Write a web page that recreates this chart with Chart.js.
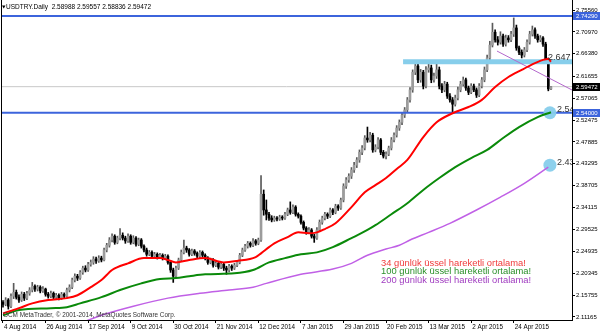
<!DOCTYPE html>
<html><head><meta charset="utf-8">
<script src="https://cdn.jsdelivr.net/npm/chart.js@4/dist/chart.umd.min.js"></script>
<style>html,body{margin:0;padding:0;background:#fff;overflow:hidden}canvas{display:block}</style>
</head><body>
<canvas id="c" width="600" height="333"></canvas>
<script>
const titleText = 'USDTRY.Daily  2.58988 2.59557 2.58836 2.59472';
const copyrightText = 'GCM MetaTrader, \u00A9 2001-2014, MetaQuotes Software Corp.';
const legendTexts = ['34 g\u00FCnl\u00FCk \u00FCssel hareketli ortalama!', '100 g\u00FCnl\u00FCk \u00FCssel hareketli ortalama!', '200 g\u00FCnl\u00FCk \u00FCssel hareketli ortalama!'];

const opens = [2.142,2.138,2.147,2.134,2.155,2.163,2.153,2.147,2.159,2.151,
 2.161,2.168,2.176,2.170,2.174,2.166,2.170,2.159,2.155,2.161,
 2.153,2.157,2.151,2.159,2.155,2.168,2.174,2.189,2.197,2.193,
 2.205,2.214,2.210,2.222,2.226,2.233,2.229,2.235,2.231,2.252,
 2.262,2.273,2.281,2.268,2.277,2.283,2.277,2.271,2.281,2.268,
 2.277,2.264,2.273,2.260,2.252,2.243,2.247,2.239,2.243,2.237,
 2.241,2.235,2.239,2.226,2.210,2.197,2.214,2.231,2.247,2.256,
 2.252,2.243,2.250,2.245,2.239,2.247,2.241,2.235,2.226,2.231,
 2.220,2.224,2.216,2.222,2.214,2.210,2.218,2.214,2.220,2.226,
 2.241,2.252,2.260,2.266,2.262,2.271,2.266,2.273,2.369,2.336,
 2.327,2.319,2.315,2.319,2.317,2.321,2.319,2.327,2.336,2.331,
 2.342,2.327,2.323,2.310,2.298,2.289,2.294,2.281,2.277,2.294,
 2.310,2.319,2.327,2.323,2.336,2.331,2.344,2.340,2.357,2.386,
 2.399,2.407,2.420,2.430,2.441,2.457,2.466,2.487,2.483,2.493,
 2.462,2.468,2.483,2.457,2.449,2.453,2.466,2.483,2.493,2.508,
 2.520,2.535,2.546,2.567,2.588,2.625,2.638,2.609,2.625,2.596,
 2.630,2.634,2.609,2.617,2.630,2.596,2.588,2.600,2.575,2.567,
 2.558,2.571,2.588,2.600,2.609,2.592,2.583,2.596,2.588,2.577,
 2.596,2.609,2.630,2.655,2.682,2.709,2.693,2.688,2.701,2.684,
 2.697,2.693,2.705,2.718,2.676,2.667,2.661,2.672,2.688,2.705,
 2.714,2.701,2.693,2.697,2.684,2.651,2.58988];
const highs = [2.146,2.152,2.150,2.160,2.182,2.168,2.158,2.164,2.163,2.165,
 2.173,2.184,2.179,2.178,2.177,2.175,2.172,2.163,2.166,2.164,
 2.161,2.160,2.163,2.162,2.172,2.179,2.193,2.202,2.201,2.209,
 2.218,2.219,2.226,2.231,2.238,2.237,2.240,2.239,2.256,2.266,
 2.278,2.286,2.284,2.281,2.297,2.288,2.281,2.286,2.284,2.282,
 2.280,2.277,2.276,2.263,2.256,2.251,2.250,2.247,2.246,2.245,
 2.244,2.243,2.242,2.229,2.214,2.218,2.235,2.252,2.273,2.260,
 2.255,2.254,2.253,2.248,2.251,2.250,2.244,2.238,2.235,2.234,
 2.228,2.227,2.226,2.225,2.218,2.222,2.221,2.224,2.230,2.245,
 2.256,2.264,2.270,2.269,2.276,2.274,2.277,2.408,2.378,2.357,
 2.331,2.324,2.323,2.322,2.325,2.324,2.331,2.340,2.353,2.347,
 2.345,2.330,2.326,2.313,2.301,2.299,2.297,2.285,2.299,2.315,
 2.323,2.331,2.330,2.340,2.339,2.348,2.347,2.361,2.391,2.404,
 2.412,2.425,2.436,2.446,2.462,2.471,2.492,2.510,2.499,2.497,
 2.473,2.488,2.486,2.461,2.458,2.470,2.488,2.498,2.513,2.525,
 2.540,2.551,2.572,2.593,2.630,2.646,2.643,2.631,2.629,2.637,
 2.645,2.640,2.623,2.644,2.636,2.601,2.606,2.604,2.580,2.572,
 2.577,2.594,2.606,2.615,2.613,2.596,2.601,2.600,2.592,2.601,
 2.614,2.636,2.661,2.690,2.728,2.714,2.700,2.710,2.705,2.703,
 2.702,2.711,2.739,2.724,2.680,2.672,2.677,2.693,2.711,2.722,
 2.718,2.705,2.702,2.700,2.688,2.655,2.59557];
const lows = [2.132,2.135,2.128,2.131,2.150,2.149,2.142,2.144,2.146,2.148,
 2.157,2.164,2.165,2.166,2.162,2.163,2.155,2.151,2.152,2.149,
 2.150,2.147,2.148,2.151,2.153,2.164,2.171,2.185,2.188,2.190,
 2.201,2.206,2.207,2.218,2.222,2.224,2.226,2.227,2.229,2.248,
 2.258,2.269,2.264,2.265,2.273,2.273,2.266,2.268,2.264,2.265,
 2.260,2.261,2.256,2.248,2.239,2.240,2.235,2.236,2.233,2.234,
 2.231,2.232,2.222,2.205,2.184,2.193,2.211,2.228,2.244,2.247,
 2.239,2.240,2.241,2.235,2.236,2.237,2.231,2.222,2.223,2.216,
 2.217,2.212,2.213,2.209,2.201,2.206,2.209,2.211,2.217,2.223,
 2.238,2.249,2.256,2.258,2.259,2.262,2.263,2.270,2.325,2.315,
 2.314,2.311,2.312,2.313,2.314,2.315,2.316,2.324,2.327,2.328,
 2.323,2.319,2.306,2.294,2.285,2.286,2.277,2.268,2.274,2.291,
 2.306,2.315,2.318,2.320,2.326,2.328,2.335,2.337,2.353,2.381,
 2.394,2.402,2.415,2.425,2.436,2.452,2.462,2.478,2.479,2.457,
 2.458,2.464,2.452,2.445,2.443,2.450,2.462,2.479,2.489,2.503,
 2.515,2.530,2.541,2.562,2.583,2.620,2.603,2.604,2.590,2.592,
 2.625,2.603,2.604,2.612,2.590,2.582,2.584,2.570,2.562,2.541,
 2.554,2.567,2.584,2.596,2.587,2.578,2.580,2.584,2.572,2.574,
 2.592,2.605,2.626,2.651,2.678,2.688,2.682,2.684,2.679,2.680,
 2.688,2.689,2.700,2.671,2.662,2.655,2.657,2.668,2.684,2.701,
 2.696,2.688,2.689,2.679,2.646,2.586,2.58836];
const closes = [2.138,2.147,2.134,2.155,2.163,2.153,2.147,2.159,2.151,2.161,
 2.168,2.176,2.170,2.174,2.166,2.170,2.159,2.155,2.161,2.153,
 2.157,2.151,2.159,2.155,2.168,2.174,2.189,2.197,2.193,2.205,
 2.214,2.210,2.222,2.226,2.233,2.229,2.235,2.231,2.252,2.262,
 2.273,2.281,2.268,2.277,2.283,2.277,2.271,2.281,2.268,2.277,
 2.264,2.273,2.260,2.252,2.243,2.247,2.239,2.243,2.237,2.241,
 2.235,2.239,2.226,2.210,2.197,2.214,2.231,2.247,2.256,2.252,
 2.243,2.250,2.245,2.239,2.247,2.241,2.235,2.226,2.231,2.220,
 2.224,2.216,2.222,2.214,2.210,2.218,2.214,2.220,2.226,2.241,
 2.252,2.260,2.266,2.262,2.271,2.266,2.273,2.369,2.336,2.327,
 2.319,2.315,2.319,2.317,2.321,2.319,2.327,2.336,2.331,2.342,
 2.327,2.323,2.310,2.298,2.289,2.294,2.281,2.277,2.294,2.310,
 2.319,2.327,2.323,2.336,2.331,2.344,2.340,2.357,2.386,2.399,
 2.407,2.420,2.430,2.441,2.457,2.466,2.487,2.483,2.493,2.462,
 2.468,2.483,2.457,2.449,2.453,2.466,2.483,2.493,2.508,2.520,
 2.535,2.546,2.567,2.588,2.625,2.638,2.609,2.625,2.596,2.630,
 2.634,2.609,2.617,2.630,2.596,2.588,2.600,2.575,2.567,2.558,
 2.571,2.588,2.600,2.609,2.592,2.583,2.596,2.588,2.577,2.596,
 2.609,2.630,2.655,2.682,2.709,2.693,2.688,2.701,2.684,2.697,
 2.693,2.705,2.718,2.676,2.667,2.661,2.672,2.688,2.705,2.714,
 2.701,2.693,2.697,2.684,2.651,2.590,2.59472];

const ema34Bars = [0,6,11,17,24,28,33,37,41,47,53,59,62,65,70,76,83,88,95,97,100,102,107,111,115,118,121,125,131,136,140,144,148,152,158,163,169,175,180,185,190,195,200,203,205,206];
const ema34Vals = [2.119,2.130,2.140,2.147,2.151,2.157,2.174,2.189,2.210,2.224,2.235,2.235,2.231,2.226,2.231,2.235,2.226,2.229,2.237,2.245,2.258,2.266,2.279,2.289,2.287,2.289,2.296,2.308,2.342,2.373,2.388,2.403,2.422,2.441,2.489,2.520,2.539,2.552,2.567,2.594,2.615,2.630,2.644,2.651,2.653,2.647];
const ema100Bars = [0,6,18,24,29,37,44,52,59,65,70,76,87,94,100,106,112,118,124,131,137,140,146,152,158,164,170,176,182,188,194,201,206];
const ema100Vals = [2.115,2.126,2.130,2.132,2.140,2.153,2.168,2.182,2.191,2.193,2.197,2.201,2.203,2.210,2.226,2.235,2.243,2.247,2.258,2.277,2.294,2.304,2.327,2.350,2.378,2.403,2.426,2.445,2.462,2.487,2.510,2.531,2.541];
const ema200Bars = [28,37,49,62,74,85,94,99,112,124,131,137,144,149,153,160,168,178,187,196,205];
const ema200Vals = [2.096,2.115,2.134,2.151,2.161,2.168,2.174,2.182,2.201,2.212,2.224,2.241,2.254,2.262,2.273,2.289,2.308,2.336,2.363,2.392,2.426];

const xTickBars = [0,16,32,48,64,80,96,112,128,144,160,176,192];
const xTickLabels = ['4 Aug 2014','26 Aug 2014','17 Sep 2014','9 Oct 2014','30 Oct 2014','21 Nov 2014','12 Dec 2014','7 Jan 2015','29 Jan 2015','20 Feb 2015','13 Mar 2015','2 Apr 2015','24 Apr 2015'];
const yTickValues = [2.75560,2.70970,2.66380,2.61655,2.57065,2.52475,2.47885,2.43295,2.38705,2.34115,2.29525,2.24935,2.20345,2.15755,2.11165];
const yTickLabels = ['2.75560','2.70970','2.66380','2.61655','2.57065','2.52475','2.47885','2.43295','2.38705','2.34115','2.29525','2.24935','2.20345','2.15755','2.11165'];

const levelTop = 2.7429;
const levelSupport = 2.54;
const levelResist = 2.647;
const lastPrice = 2.59472;
const resistStartBar = 150.4;
const trendBars = [185.7, 214];
const trendVals = [2.6695, 2.5875];
const markerBars = [205.6, 205.6];
const markerVals = [2.540, 2.430];
const markerLabels = ['2.54', '2.43'];

const X_MIN = -0.75, X_MAX = 213.9, Y_MIN = 2.1051, Y_MAX = 2.7766;
const FONT = '"Liberation Sans", Arial, sans-serif';
const BULL = '#9c9c9c', BEAR = '#000000';

const idx = closes.map((_, i) => i);
const candleCol = idx.map(i => closes[i] >= opens[i] ? BULL : BEAR);
const wickCol = idx.map(i => closes[i] >= opens[i] ? '#5a5a5a' : BEAR);
const pts = (bars, vals) => bars.map((b, i) => ({x: b, y: vals[i]}));
const flat = (a, b, v) => [{x: a, y: v}, {x: b, y: v}];

const lineDs = (data, color, width, order, extra) => Object.assign({
  type: 'line', data, borderColor: color, borderWidth: width, pointRadius: 0,
  fill: false, order, clip: 0, cubicInterpolationMode: 'monotone'
}, extra || {});

const overlay = {
  id: 'overlay',
  afterDatasetsDraw(chart) {
    const {ctx, chartArea: a, scales: {x, y}} = chart;
    ctx.save();
    ctx.beginPath(); ctx.rect(a.left, a.top, a.right - a.left, a.bottom - a.top); ctx.clip();
    ctx.fillStyle = '#333';
    ctx.textBaseline = 'middle'; ctx.textAlign = 'left';
    ctx.font = '9px ' + FONT;
    ctx.fillText(levelResist.toFixed(3), x.getPixelForValue(204.9), y.getPixelForValue(levelResist) - 4);
    markerLabels.forEach((t, i) => ctx.fillText(t, x.getPixelForValue(markerBars[i]) + 7, y.getPixelForValue(markerVals[i]) - 3));
    const cols = ['#f03a3a', '#2a8f2a', '#a03cc0'];
    ctx.font = '9.4px ' + FONT;
    legendTexts.forEach((t, i) => { ctx.fillStyle = cols[i]; ctx.fillText(t, a.left + 380, 263.5 + i * 8.3); });
    ctx.fillStyle = '#333'; ctx.font = '6.4px ' + FONT;
    ctx.fillText(copyrightText, a.left + 2, 315.5);
    ctx.fillStyle = '#000'; ctx.font = '6.5px ' + FONT;
    ctx.fillText(titleText, a.left + 5, 7);
    ctx.beginPath(); ctx.moveTo(a.left + 1, 5.5); ctx.lineTo(a.left + 4.5, 5.5); ctx.lineTo(a.left + 2.75, 8.5); ctx.closePath(); ctx.fill();
    ctx.restore();
  },
  afterDraw(chart) {
    const {ctx, chartArea: a, scales: {y}} = chart;
    ctx.save();
    ctx.strokeStyle = '#000'; ctx.lineWidth = 1;
    ctx.beginPath(); ctx.moveTo(a.left + 0.5, 0); ctx.lineTo(a.left + 0.5, a.bottom); ctx.stroke();
    const boxes = [[levelTop, '#3c64dc'], [levelSupport, '#3c64dc'], [lastPrice, '#000000']];
    ctx.font = '6px ' + FONT; ctx.textBaseline = 'middle'; ctx.textAlign = 'left';
    boxes.forEach(([v, c]) => {
      const py = Math.round(y.getPixelForValue(v));
      ctx.fillStyle = c; ctx.fillRect(a.right + 1, py - 4, 27, 8);
      ctx.fillStyle = '#fff'; ctx.fillText(v.toFixed(5), a.right + 4, py + 0.5);
    });
    ctx.restore();
  }
};

new Chart(document.getElementById('c'), {
  type: 'line',
  data: {
    datasets: [
      lineDs(pts(ema34Bars, ema34Vals), '#ff0000', 2, 1),
      lineDs(pts(ema100Bars, ema100Vals), '#0a8a0a', 2, 1),
      lineDs(pts(ema200Bars, ema200Vals), '#c060e6', 1.5, 1),
      lineDs(pts(trendBars, trendVals), '#b468cc', 1, 2, {cubicInterpolationMode: 'default'}),
      {type: 'scatter', data: pts(markerBars, markerVals), pointRadius: 6.5, pointBackgroundColor: 'rgba(135,206,235,0.95)', pointBorderWidth: 0, order: 2, clip: 0},
      lineDs(flat(X_MIN - 1, X_MAX + 1, levelTop), '#3c64dc', 2, 3),
      lineDs(flat(X_MIN - 1, X_MAX + 1, levelSupport), '#3c64dc', 2, 3),
      lineDs(flat(resistStartBar, X_MAX + 1, levelResist), '#87ceeb', 5, 3.5),
      {type: 'bar', data: idx.map(i => ({x: i, y: [opens[i], closes[i]]})), backgroundColor: candleCol, barThickness: 2, minBarLength: 1, grouped: false, order: 4, borderWidth: 0},
      {type: 'bar', data: idx.map(i => ({x: i, y: [lows[i], highs[i]]})), backgroundColor: wickCol, barThickness: 1, grouped: false, order: 5, borderWidth: 0},
      lineDs(flat(X_MIN - 1, X_MAX + 1, lastPrice), '#c8c8c8', 1, 6)
    ]
  },
  options: {
    responsive: false, animation: false, devicePixelRatio: 1,
    layout: {autoPadding: false, padding: {left: 1, right: 0, top: 0, bottom: 0}},
    plugins: {legend: {display: false}, tooltip: {enabled: false}},
    scales: {
      x: {
        type: 'linear', min: X_MIN, max: X_MAX, offset: false,
        grid: {drawOnChartArea: false, offset: false, tickLength: 3, color: '#000'},
        border: {display: true, color: '#000', width: 1},
        ticks: {autoSkip: false, maxRotation: 0, minRotation: 0, align: 'start', padding: 0, labelOffset: 1,
          color: '#000', font: {family: FONT, size: 6.3}, callback: (v, i) => xTickLabels[i]},
        afterBuildTicks: s => { s.ticks = xTickBars.map(v => ({value: v})); },
        afterFit: s => { s.height = 13; s.paddingLeft = 0; s.paddingRight = 0; }
      },
      y: {
        type: 'linear', position: 'right', min: Y_MIN, max: Y_MAX,
        grid: {drawOnChartArea: false, tickLength: 3, color: '#000'},
        border: {display: true, color: '#000', width: 1},
        ticks: {padding: 1, color: '#000', font: {family: FONT, size: 6}, callback: (v, i) => yTickLabels[i]},
        afterBuildTicks: s => { s.ticks = yTickValues.map(v => ({value: v})); },
        afterFit: s => { s.width = 28; s.paddingTop = 0; s.paddingBottom = 0; }
      }
    }
  },
  plugins: [overlay]
});
</script>
</body></html>
